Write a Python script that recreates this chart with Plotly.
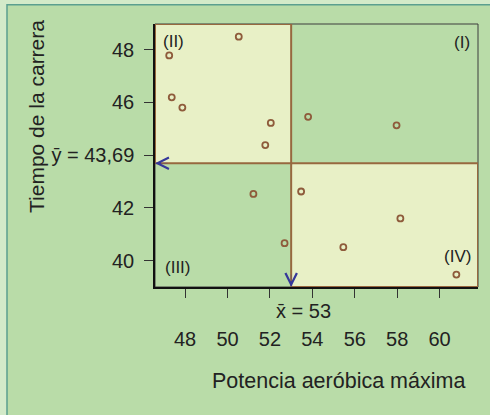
import plotly.graph_objects as go

# data
potencia = [47.25, 50.53, 47.37, 47.87, 52.04, 51.78, 53.80, 57.97,
            51.22, 53.47, 52.69, 55.46, 58.15, 60.79]
tiempo = [47.78, 48.49, 46.19, 45.80, 45.22, 44.38, 45.45, 45.13,
          42.53, 42.62, 40.66, 40.51, 41.60, 39.47]
X_MEAN = 53
Y_MEAN = 43.69
x_ticks = [48, 50, 52, 54, 56, 58, 60]
y_ticks = [40, 42, 44, 46, 48]
y_tick_text = ["40", "42", "ȳ = 43,69", "46", "48"]
X_RANGE = [46.58, 61.81]
Y_RANGE = [39.0, 48.97]

W, H = 490, 415
ML, MR, MT, MB = 155, 12, 24, 128

GREEN = "#b9dca8"
LIGHT = "#d3eac9"
PALE = "#e8f0c6"
BROWN = "#97683f"
MARK = "#8e5b3b"
TEXT = "#222222"
BLUE = "#35389a"
FONT = "Liberation Sans, Arial, sans-serif"


def px_x(px):
    return (px - ML) / (W - ML - MR)


def px_y(py):
    return (H - MB - py) / (H - MT - MB)


def label(text, x, y, size, **kw):
    return dict(text=text, xref="paper", yref="paper", x=px_x(x), y=px_y(y),
                xanchor="center", yanchor="middle", showarrow=False,
                font={"family": FONT, "size": size, "color": TEXT}, **kw)


fig = go.Figure()
fig.add_trace(
    go.Scatter(
        x=potencia,
        y=tiempo,
        mode="markers",
        marker={"symbol": "circle-open", "size": 6, "color": MARK,
                "line": {"width": 1.8, "color": MARK}},
        hoverinfo="x+y",
    )
)

shapes = [
    # outer panel with teal edge
    dict(type="rect", xref="paper", yref="paper", layer="below",
         x0=px_x(7), x1=px_x(W + 10), y0=px_y(H + 10), y1=px_y(4.7),
         fillcolor=GREEN, line={"color": "#5b9f8f", "width": 1.5}),
    # plot frame (top / right thin)
    dict(type="rect", xref="x domain", yref="y domain", layer="below",
         x0=0, x1=1, y0=0, y1=1, line={"color": "#3c3c3c", "width": 1}),
    # quadrant fills
    dict(type="rect", xref="x domain", yref="y", layer="below",
         x0=0, x1=(X_MEAN - X_RANGE[0]) / (X_RANGE[1] - X_RANGE[0]),
         y0=Y_MEAN, y1=Y_RANGE[1], fillcolor=PALE, line={"width": 0}),
    dict(type="rect", xref="x", yref="y domain", layer="below",
         x0=X_MEAN, x1=X_RANGE[1], y0=0,
         y1=(Y_MEAN - Y_RANGE[0]) / (Y_RANGE[1] - Y_RANGE[0]),
         fillcolor=PALE, line={"width": 0}),
    # quadrant borders
    dict(type="rect", xref="x", yref="y", layer="above",
         x0=X_RANGE[0], x1=X_MEAN, y0=Y_MEAN, y1=Y_RANGE[1],
         line={"color": BROWN, "width": 2}),
    dict(type="rect", xref="x", yref="y", layer="above",
         x0=X_MEAN, x1=X_RANGE[1], y0=Y_RANGE[0], y1=Y_MEAN,
         line={"color": BROWN, "width": 2}),
]

# chevron heads only: hair-thin shaft hidden on the brown border
chevron = dict(text="", showarrow=True, arrowhead=5, arrowwidth=0.3,
               arrowsize=7.5, arrowcolor=BLUE, standoff=0)
annotations = [
    label("Tiempo de la carrera", 36, 117, 21, textangle=-90),
    label("Potencia aeróbica máxima", 338, 381, 21.5),
    label("x̄ = 53", 303, 311, 20),
    label("(II)", 173, 41, 17),
    label("(I)", 462, 43, 17),
    label("(III)", 178, 267, 17),
    label("(IV)", 457, 256, 17),
    dict(xref="x domain", yref="y", x=0, y=Y_MEAN, ax=14, ay=0, **chevron),
    dict(xref="x", yref="y domain", x=X_MEAN, y=0, ax=0, ay=-14, **chevron),
]

fig.update_layout(
    width=W,
    height=H,
    margin={"l": ML, "r": MR, "t": MT, "b": MB},
    paper_bgcolor=LIGHT,
    plot_bgcolor="rgba(0,0,0,0)",
    font={"family": FONT, "color": TEXT, "size": 20},
    showlegend=False,
    shapes=shapes,
    annotations=annotations,
)
fig.update_xaxes(
    range=X_RANGE, tickvals=x_ticks, ticks="outside", ticklen=9,
    tickcolor="#333", showline=True, linecolor="#111", linewidth=1.5,
    showgrid=False, zeroline=False, ticklabelstandoff=24,
    automargin=False,
)
fig.update_yaxes(
    range=Y_RANGE, tickvals=y_ticks, ticktext=y_tick_text, ticks="outside",
    ticklen=9, tickcolor="#333", showline=True, linecolor="#111",
    linewidth=1.5, showgrid=False, zeroline=False, ticklabelstandoff=6,
    automargin=False,
)

fig.write_html("out.html", config={"displayModeBar": False},
               post_script="document.body.style.margin='0px';")
